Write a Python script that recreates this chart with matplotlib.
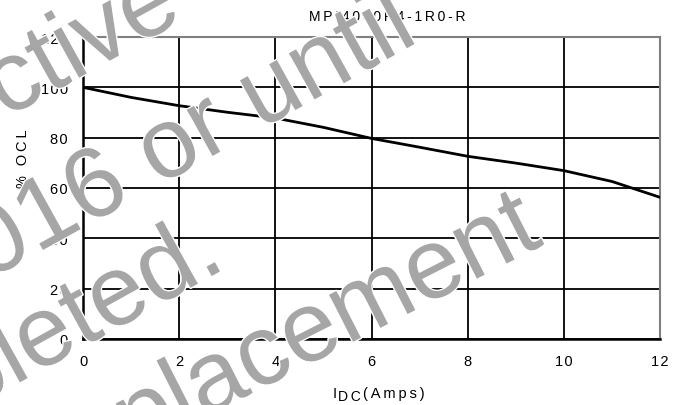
import matplotlib
matplotlib.use("Agg")
import matplotlib.pyplot as plt
import matplotlib.patheffects as pe

plt.rcParams['font.family'] = ['Liberation Sans', 'DejaVu Sans']

# % OCL versus DC current
idc = [0, 1, 2, 3, 4, 5, 6, 7, 8, 9, 10, 11, 12]
ocl = [100, 96.0, 92.7, 90.1, 87.8, 84.1, 79.7, 76.2, 72.6, 69.9, 66.9, 62.6, 56.3]

xticks = [0, 2, 4, 6, 8, 10, 12]
yticks = [0, 20, 40, 60, 80, 100, 120]
title = "MPI4040R4-1R0-R"

# watermark lines: text, end point of baseline in pixels, rotation
wm_text = ["effective", "2016 or until", "depleted.", "replacement"]
wm_pos = [(185, 20), (420, 42), (228, 268), (545, 245)]
wm_rot = [29, 29, 29, 27]

THIN = "\u2009"
HAIR = "\u200a"


def spaced(s, sep):
    # the original pdf text has wide letter spacing
    return sep.join(s)


W, H = 691, 406
fig = plt.figure(figsize=(W / 100, H / 100), dpi=100)
ax = fig.add_axes([83 / W, 1 - 340 / H, 577 / W, 302 / H])

ax.plot(idc, ocl, color="black", linewidth=2, zorder=3)

ax.set_xlim(0, 12)
ax.set_ylim(0, 120)
ax.set_xticks(xticks)
ax.set_xticklabels([spaced(str(v), HAIR) for v in xticks])
ax.set_yticks(yticks)
ax.set_yticklabels([spaced(str(v), HAIR) for v in yticks])
ax.tick_params(length=0, labelsize=10.5, pad=11)
ax.grid(True, color="black", linewidth=1.3)
ax.set_axisbelow(True)

for side in ["top", "right"]:
    ax.spines[side].set_color("#808080")
    ax.spines[side].set_linewidth(1.5)
for side in ["left", "bottom"]:
    ax.spines[side].set_color("black")
    ax.spines[side].set_linewidth(1.8)

fig.text(387 / W, 1 - 17 / H, spaced(title, THIN), ha="center", va="center", fontsize=10)
fig.text(23 / W, 1 - 159 / H, spaced("% OCL", THIN), rotation=90, ha="center", va="center", fontsize=10.5)

# x label I_DC(Amps), built from three pieces so the subscript keeps its size
fig.text(333 / W, 1 - 398 / H, "I", ha="left", va="baseline", fontsize=10.5)
fig.text(338 / W, 1 - 401 / H, spaced("DC", THIN), ha="left", va="baseline", fontsize=10)
fig.text(363 / W, 1 - 398 / H, spaced("(Amps)", THIN), ha="left", va="baseline", fontsize=10.5)

for t, (px, py), r in zip(wm_text, wm_pos, wm_rot):
    fig.text(px / W, 1 - py / H, t, rotation=r, rotation_mode="anchor",
             ha="right", va="baseline", fontsize=72, color="#a6a6a6",
             path_effects=[pe.withStroke(linewidth=2, foreground="white")])

fig.savefig("out.png", dpi=100)
